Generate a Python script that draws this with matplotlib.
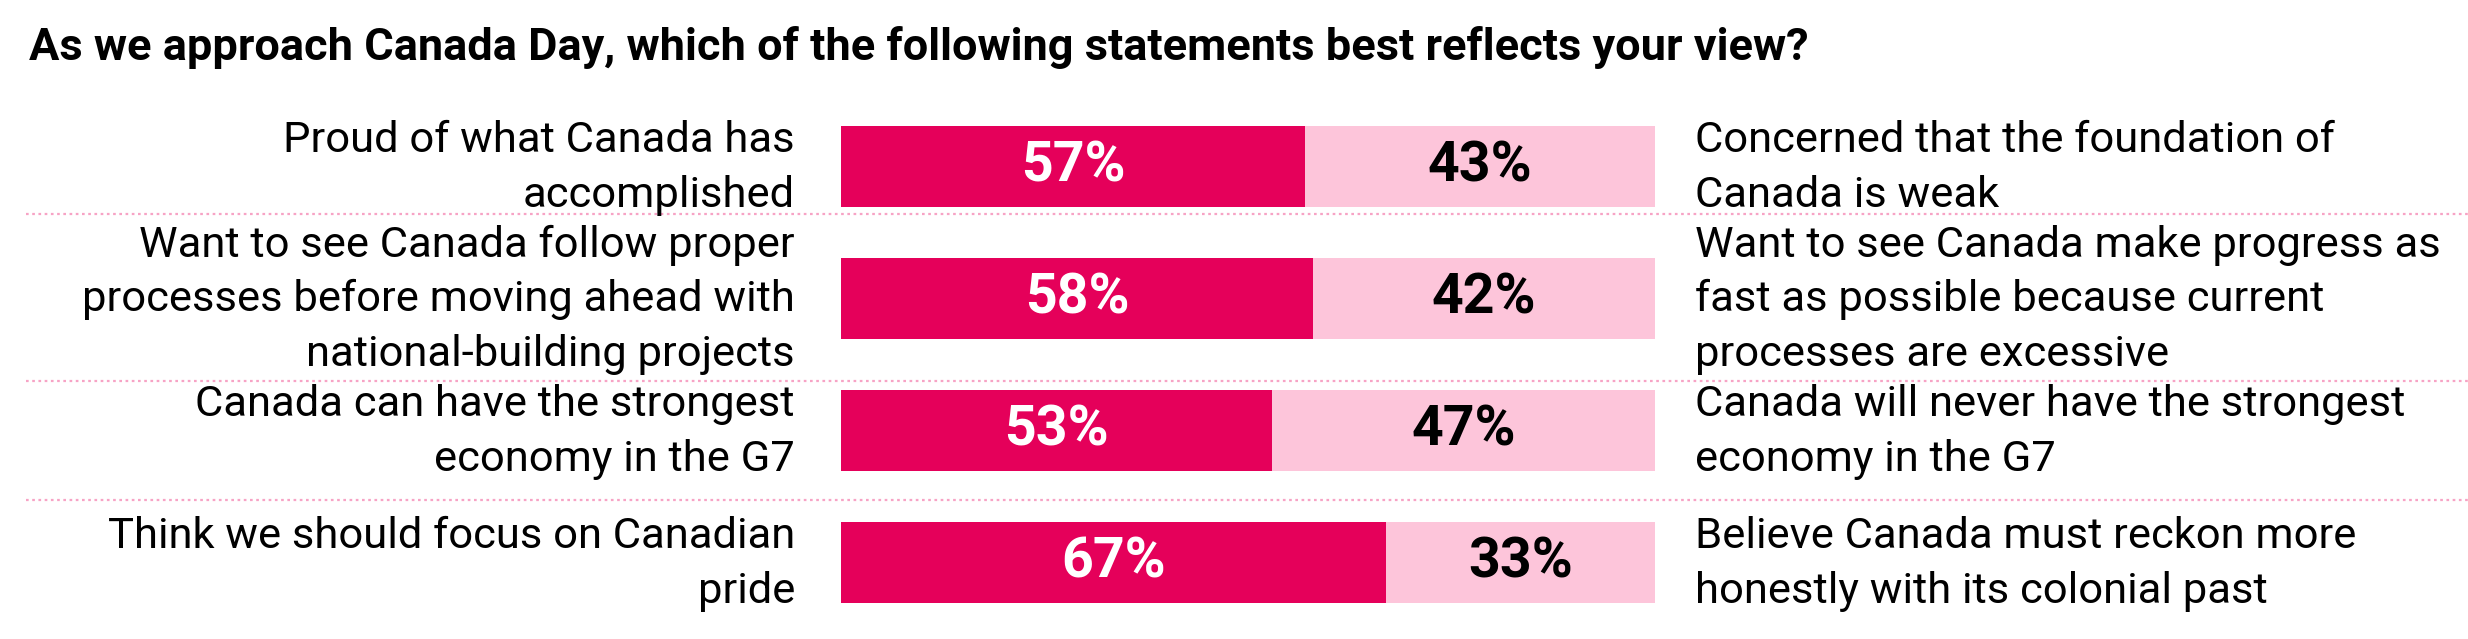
import matplotlib
matplotlib.use("Agg")
import matplotlib.pyplot as plt
import matplotlib.transforms as mtransforms

# ---------------- data ----------------
title = "As we approach Canada Day, which of the following statements best reflects your view?"
left_labels = [
    ["Proud of what Canada has", "accomplished"],
    ["Want to see Canada follow proper", "processes before moving ahead with", "national-building projects"],
    ["Canada can have the strongest", "economy in the G7"],
    ["Think we should focus on Canadian", "pride"],
]
right_labels = [
    ["Concerned that the foundation of", "Canada is weak"],
    ["Want to see Canada make progress as", "fast as possible because current", "processes are excessive"],
    ["Canada will never have the strongest", "economy in the G7"],
    ["Believe Canada must reckon more", "honestly with its colonial past"],
]
left_values = [57, 58, 53, 67]
right_values = [43, 42, 47, 33]

# ---------------- style ----------------
W, H = 2468, 639
DARK = "#E5005A"
LIGHT = "#FDC5DA"
DOT = "#F7A3C5"
FONT = "Roboto"

fig = plt.figure(figsize=(W / 100, H / 100), dpi=100)
fig.patch.set_facecolor("white")

# bar axes placed in pixel layout
bx0, bx1 = 841, 1655
row0, rowstep = 166.5, 132.0
ytop = row0 - rowstep / 2
ybot = row0 + rowstep * 3.5
ax = fig.add_axes([bx0 / W, 1 - ybot / H, (bx1 - bx0) / W, (ybot - ytop) / H])
ax.set_xlim(0, 100)
ax.set_ylim(3.5, -0.5)
ax.axis("off")

n = len(left_values)
ys = list(range(n))
bar_h = 81 / rowstep
ax.barh(ys, left_values, height=bar_h, color=DARK, linewidth=0)
ax.barh(ys, right_values, left=left_values, height=bar_h, color=LIGHT, linewidth=0)

pct_size = 40
for y, lv, rv in zip(ys, left_values, right_values):
    ax.text(lv / 2, y, f"{lv}%", ha="center", va="center", color="white",
            fontsize=pct_size, fontweight="bold", family=FONT)
    ax.text(lv + rv / 2, y, f"{rv}%", ha="center", va="center", color="black",
            fontsize=pct_size, fontweight="bold", family=FONT)

# labels
lab_size = 31.3
line_sp = 54.5 / rowstep
cap_half = 13.0 / rowstep
blend = mtransforms.blended_transform_factory(ax.transAxes, ax.transData)
lx = (795 - bx0) / (bx1 - bx0)
rx = (1695 - bx0) / (bx1 - bx0)
for y, ll, rl in zip(ys, left_labels, right_labels):
    for lines, x, ha in ((ll, lx, "right"), (rl, rx, "left")):
        k = len(lines)
        for i, line in enumerate(lines):
            yy = y + (i - (k - 1) / 2) * line_sp + cap_half
            ax.text(x, yy, line, transform=blend, ha=ha, va="baseline",
                    fontsize=lab_size, family=FONT, color="black", clip_on=False)

# dotted separators
sep_y = [0.36, 1.625, 2.527]
sblend = mtransforms.blended_transform_factory(fig.transFigure, ax.transData)
for sy in sep_y:
    ax.plot([26 / W, 1.0], [sy, sy], transform=sblend, color=DOT, linewidth=1.6,
            linestyle=(0, (1.2, 1.6)), clip_on=False, solid_capstyle="butt",
            dash_capstyle="butt")

fig.text(29 / W, 1 - 60 / H, title, ha="left", va="baseline", fontsize=32.5,
         fontweight="bold", family=FONT, color="black")

fig.savefig("out.png", dpi=100, facecolor="white")
